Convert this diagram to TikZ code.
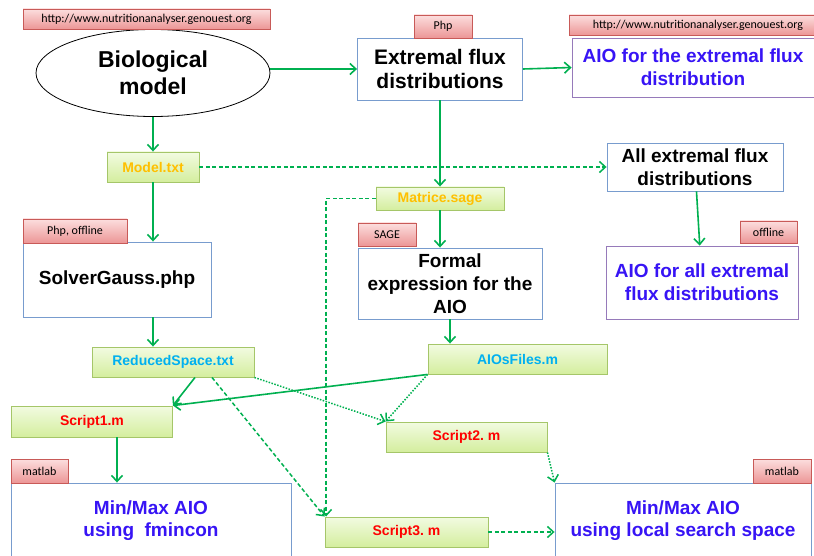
\documentclass[tikz,border=0pt]{standalone}
\usepackage{fontspec}
\setmainfont{Liberation Sans}
\newfontfamily\tagfont{Carlito}
\usepackage{xcolor}
\usetikzlibrary{shapes.geometric,arrows.meta}

\definecolor{flowgreen}{RGB}{0,176,80}
\definecolor{boxblue}{RGB}{120,156,206}
\definecolor{boxpurple}{RGB}{150,122,186}
\definecolor{aioblue}{RGB}{55,20,245}
\definecolor{filegreen}{RGB}{165,198,105}
\definecolor{filetop}{RGB}{242,251,225}
\definecolor{filebot}{RGB}{212,238,158}
\definecolor{fileyellow}{RGB}{255,192,0}
\definecolor{filecyan}{RGB}{0,176,240}
\definecolor{tagred}{RGB}{200,90,88}
\definecolor{tagtop}{RGB}{252,222,222}
\definecolor{tagbot}{RGB}{236,150,150}

\begin{document}
\frenchspacing
\begin{tikzpicture}[x=1pt,y=-1pt]
        % Define styles
        \tikzset{
            process/.style={rectangle, draw=boxblue, line width=0.9pt, fill=white, align=center, inner sep=2pt, font=\bfseries\fontsize{19}{23}\selectfont},
            result/.style={process, draw=boxpurple, text=aioblue},
            file/.style={rectangle, draw=filegreen, line width=0.9pt, top color=filetop, bottom color=filebot, inner sep=0pt, font=\bfseries\fontsize{14}{16}\selectfont},
            tag/.style={rectangle, draw=tagred, line width=0.8pt, top color=tagtop, bottom color=tagbot, inner sep=0pt, font=\tagfont\fontsize{12}{14}\selectfont},
            arrow/.style={-{Straight Barb[length=6pt,width=11pt]}, draw=flowgreen, line width=1.6pt},
            dasharrow/.style={arrow, line width=1.5pt, dash pattern=on 4pt off 2.5pt},
            dotarrow/.style={arrow, line width=1.5pt, dash pattern=on 1.5pt off 1.5pt}
        }
        \clip (0,0) rectangle (814,556);

        % Nodes
        \node[ellipse, draw, line width=0.8pt, minimum width=234, minimum height=87, inner sep=0pt, align=center, font=\bfseries\fontsize{23}{27}\selectfont] (bio_node) at (153,73) {Biological\\model};
        \node[process, minimum width=165, minimum height=62, font=\bfseries\fontsize{21}{24}\selectfont] (extremal_node) at (440,69) {Extremal flux\\distributions};
        \node[result, minimum width=242, minimum height=59] (aio_ext_node) at (693,67.5) {AIO for the extremal flux\\distribution};
        \node[file, minimum width=92, minimum height=30, text=fileyellow] (model_node) at (153,167) {Model.txt};
        \node[process, minimum width=176, minimum height=48] (all_ext_node) at (695,167) {All extremal flux\\distributions};
        \node[file, minimum width=128, minimum height=23, text=fileyellow] (matrice_node) at (440,198.5) {Matrice.sage};
        \node[process, minimum width=188, minimum height=75] (solver_node) at (117,279.5) {SolverGauss.php};
        \node[process, minimum width=184, minimum height=71] (formal_node) at (450,283.5) {Formal\\expression for the\\AIO};
        \node[result, minimum width=192, minimum height=73] (aio_all_node) at (702,282.5) {AIO for all extremal\\flux distributions};
        \node[file, minimum width=162, minimum height=30, text=filecyan] (reduced_node) at (173,362) {ReducedSpace.txt};
        \node[file, minimum width=179, minimum height=30, text=filecyan] (aios_node) at (517.5,359) {AIOsFiles.m};
        \node[file, minimum width=161, minimum height=31, text=red] (script_node_1) at (92,421.5) {Script1.m};
        \node[file, minimum width=161, minimum height=30, text=red] (script_node_2) at (466.5,437) {Script2. m};
        \node[file, minimum width=163, minimum height=30, text=red] (script_node_3) at (406.5,532) {Script3. m};
        \node[process, minimum width=280, minimum height=76, text=aioblue, font=\bfseries\fontsize{19}{22}\selectfont] (fmincon_node) at (151,521) {Min/Max AIO\\using\ \ fmincon};
        \node[process, minimum width=256, minimum height=76, text=aioblue, font=\bfseries\fontsize{19}{22}\selectfont] (local_node) at (683,521) {Min/Max AIO\\using local search space};

        % Tags
        \node[tag, minimum width=247, minimum height=20] (tag_node_1) at (146.5,19) {http://www.nutritionanalyser.genouest.org};
        \node[tag, minimum width=58, minimum height=23] (tag_node_2) at (443,26.5) {Php};
        \node[tag, minimum width=258, minimum height=20] (tag_node_3) at (698,25) {http://www.nutritionanalyser.genouest.org};
        \node[tag, minimum width=104, minimum height=24] (tag_node_4) at (75,231) {Php, offline};
        \node[tag, minimum width=58, minimum height=23] (tag_node_5) at (387,234.5) {SAGE};
        \node[tag, minimum width=57, minimum height=22] (tag_node_6) at (768.5,232) {offline};
        \node[tag, minimum width=57, minimum height=24] (tag_node_7) at (39.5,471) {matlab};
        \node[tag, minimum width=58, minimum height=24] (tag_node_8) at (782,471) {matlab};

        % Arrows
        \draw[arrow] (bio_node.east |- extremal_node.west) -- (extremal_node.west);
        \draw[arrow] (extremal_node.east) -- (aio_ext_node.west);
        \draw[arrow] (bio_node.south) -- (model_node.north);
        \draw[dasharrow] (model_node) -- (all_ext_node);
        \draw[arrow] (extremal_node) -- (matrice_node);
        \draw[dasharrow] (matrice_node.west) -| ([xshift=1.5]script_node_3.north west);
        \draw[arrow] (all_ext_node) -- (aio_all_node);
        \draw[arrow] (model_node) -- (model_node |- solver_node.north);
        \draw[arrow] (matrice_node) -- (matrice_node |- formal_node.north);
        \draw[arrow] (model_node |- solver_node.south) -- (model_node |- reduced_node.north);
        \draw[arrow] (formal_node) -- (formal_node |- aios_node.north);
        \draw[arrow] ([xshift=22]reduced_node.south) -- (script_node_1.north east);
        \draw[arrow] (aios_node.south west) -- (script_node_1.north east);
        \draw[dotarrow] (reduced_node.south east) -- (script_node_2.north west);
        \draw[dotarrow] (aios_node.south west) -- (script_node_2.north west);
        \draw[dasharrow] ([xshift=39]reduced_node.south) -- (script_node_3.north west);
        \draw[arrow] ([xshift=25]script_node_1.south) -- ([xshift=25]script_node_1.south |- fmincon_node.north);
        \draw[dotarrow] (script_node_2.south east) -- (local_node.north west);
        \draw[dasharrow] (script_node_3) -- (script_node_3 -| local_node.west);
\end{tikzpicture}
\end{document}
